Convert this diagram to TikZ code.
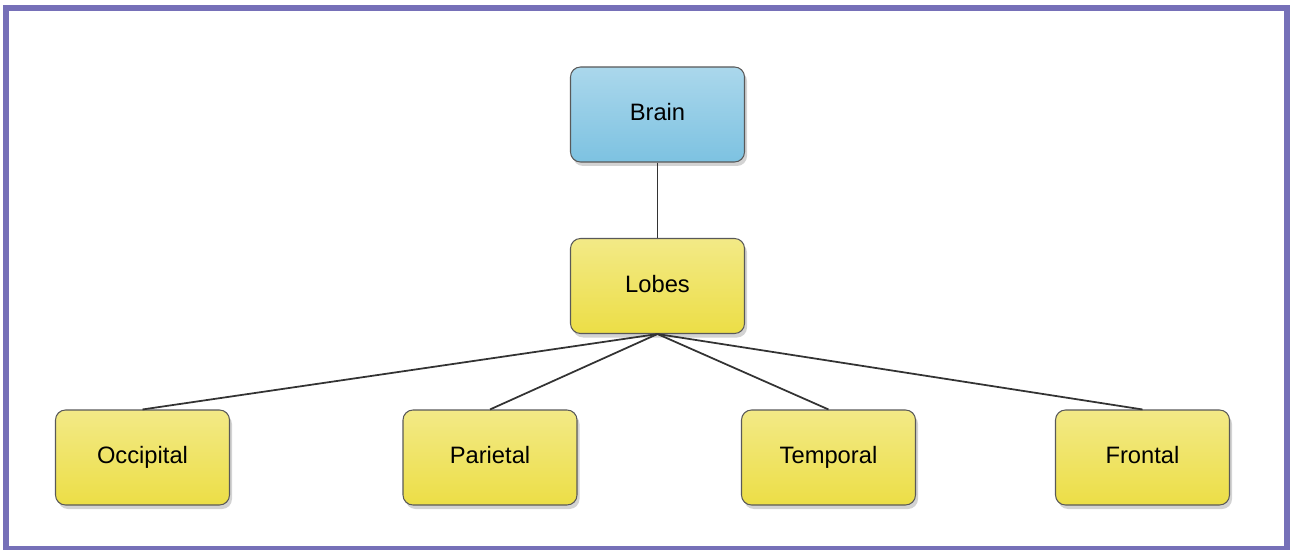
\documentclass[tikz,border=0pt]{standalone}
\usepackage{fontspec}
\setmainfont{Liberation Sans}
\usetikzlibrary{shadows}
\definecolor{framepurple}{RGB}{118,112,184}
\definecolor{brainblue}{RGB}{125,194,225}
\definecolor{lobeyellow}{RGB}{236,222,70}
\begin{document}
\begin{tikzpicture}[
            level distance=3.43cm,
            level 1/.style={sibling distance=67mm},
            level 2/.style={sibling distance=67mm},
            edge from parent/.style={draw, black!80, line width=1pt},
            edge from parent path={(\tikzparentnode.south) -- (\tikzchildnode.north)},
            every node/.style={draw=black!65, line width=0.6pt, rectangle, rounded corners=2mm, minimum width=3.48cm, minimum height=1.9cm, text height=10pt, text depth=3pt, font=\fontsize{13.5}{16}\selectfont, top color=lobeyellow!65, bottom color=lobeyellow, drop shadow={opacity=0.35, shadow xshift=0.5mm, shadow yshift=-0.8mm}}
        ]

        \useasboundingbox (0,0) rectangle (25.8,-11);
        \draw[framepurple, line width=1.2mm] (0.12,-0.17) rectangle (25.74,-10.98);

        \node (brain) at (13.15,-2.29) [top color=brainblue!65, bottom color=brainblue] {Brain}
        child {
            node (lobes) {Lobes}
            child[xshift=-2.5mm] {
                node (occipital) {Occipital}
            }
            child {
                node (parietal) {Parietal}
            }
            child[xshift=0.7mm] {
                node (temporal) {Temporal}
            }
            child[xshift=-3.5mm] {
                node (frontal) {Frontal}
            }
        };

        \end{tikzpicture}
\end{document}
